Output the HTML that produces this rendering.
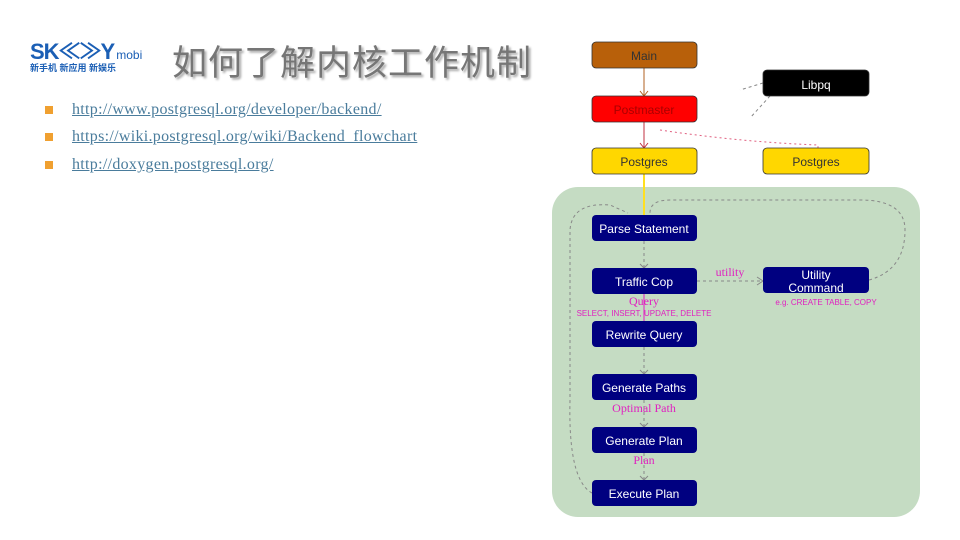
<!DOCTYPE html>
<html><head><meta charset="utf-8"><style>
body{margin:0;width:960px;height:540px;background:#fff;position:relative;overflow:hidden;font-family:"Liberation Sans","Noto Sans CJK SC",sans-serif}
.logo{position:absolute;left:30px;top:34px;color:#1b5fb5;font-weight:bold;font-size:22px;letter-spacing:-1px}
.logo small{font-size:12px;font-weight:normal;letter-spacing:0;margin-left:2px}
.sub{position:absolute;left:30px;top:61px;font-size:9px;color:#1b5fb5;font-weight:bold}
.title{position:absolute;left:172px;top:35px;font-size:35px;color:#767676;text-shadow:2px 2px 2px #aaa;letter-spacing:1px}
.b{position:absolute;left:45px;width:8px;height:8px;background:#f0a030}
.l{position:absolute;left:72px;font-family:"Liberation Serif",serif;font-size:16px;letter-spacing:0.3px;color:#4a7c9c;text-decoration:underline}
</style></head><body>
<div class="logo">SK≪≫Y<small>mobi</small></div>
<div class="sub">新手机 新应用 新娱乐</div>
<div class="title">如何了解内核工作机制</div>
<div class="b" style="top:106px"></div><div class="l" style="top:101px">http://www.postgresql.org/developer/backend/</div>
<div class="b" style="top:133px"></div><div class="l" style="top:128px">https://wiki.postgresql.org/wiki/Backend_flowchart</div>
<div class="b" style="top:161px"></div><div class="l" style="top:156px">http://doxygen.postgresql.org/</div>
<svg width="960" height="540" style="position:absolute;left:0;top:0" font-family="Liberation Sans, sans-serif">
<rect x="552" y="187" width="368" height="330" rx="26" fill="#c5dcc3"/>
<g fill="none" stroke="#888" stroke-dasharray="3,3">
<path d="M592 493 Q568 480 570 400 L570 230 Q572 202 610 205 L628 213"/>
<path d="M869 280 Q905 270 905 230 Q905 200 860 200 L670 200 Q650 200 650 213"/>
<path d="M644 241 V268 M644 347 V374 M644 400 V427 M644 453 V480"/>
<path d="M697 281 H763"/>
<path d="M763 83 L740 90 M770 96 L750 118"/>
</g>
<g fill="none" stroke="#888"><path d="M640 264 L644 268 L648 264 M640 370 L644 374 L648 370 M640 423 L644 427 L648 423 M640 476 L644 480 L648 476 M757 277 L763 281 L757 285"/></g>
<path d="M644 68 V96" stroke="#b06020"/><path d="M640 91 L644 96 L648 91" stroke="#b06020" fill="none"/>
<path d="M644 122 V148" stroke="#c03040"/><path d="M640 143 L644 148 L648 143" stroke="#c03040" fill="none"/>
<path d="M644 174 V215" stroke="#ffe020" stroke-width="2"/>
<path d="M644 294 V321" stroke="#e020c0"/>
<path d="M660 130 Q740 142 818 145 V148" stroke="#e06080" stroke-dasharray="2,3" fill="none"/>
<g stroke="#333" stroke-width="0.8">
<rect x="592" y="42" width="105" height="26" rx="4" fill="#b8600a"/>
<rect x="592" y="96" width="105" height="26" rx="4" fill="#ff0000"/>
<rect x="592" y="148" width="105" height="26" rx="4" fill="#ffd700"/>
<rect x="763" y="70" width="106" height="26" rx="4" fill="#000"/>
<rect x="763" y="148" width="106" height="26" rx="4" fill="#ffd700"/>
</g>
<g fill="#000080">
<rect x="592" y="215" width="105" height="26" rx="4"/><rect x="592" y="268" width="105" height="26" rx="4"/>
<rect x="592" y="321" width="105" height="26" rx="4"/><rect x="592" y="374" width="105" height="26" rx="4"/>
<rect x="592" y="427" width="105" height="26" rx="4"/><rect x="592" y="480" width="105" height="26" rx="4"/>
<rect x="763" y="267" width="106" height="26" rx="4"/>
</g>
<g font-size="12" text-anchor="middle">
<text x="644" y="60" fill="#333">Main</text><text x="644" y="114" fill="#a00">Postmaster</text>
<text x="644" y="166" fill="#333">Postgres</text><text x="816" y="89" fill="#fff">Libpq</text>
<text x="816" y="166" fill="#333">Postgres</text>
<g fill="#fff"><text x="644" y="233">Parse Statement</text><text x="644" y="286">Traffic Cop</text>
<text x="644" y="339">Rewrite Query</text><text x="644" y="392">Generate Paths</text>
<text x="644" y="445">Generate Plan</text><text x="644" y="498">Execute Plan</text>
<text x="816" y="279">Utility</text><text x="816" y="292">Command</text></g>
<g fill="#e020c0" font-family="Liberation Serif, serif"><text x="644" y="305">Query</text><text x="730" y="276">utility</text>
<text x="644" y="412">Optimal Path</text><text x="644" y="464">Plan</text></g>
<g fill="#e020c0" font-size="8"><text x="644" y="316">SELECT, INSERT, UPDATE, DELETE</text><text x="826" y="305">e.g. CREATE TABLE, COPY</text></g>
</g>
</svg>
</body></html>
